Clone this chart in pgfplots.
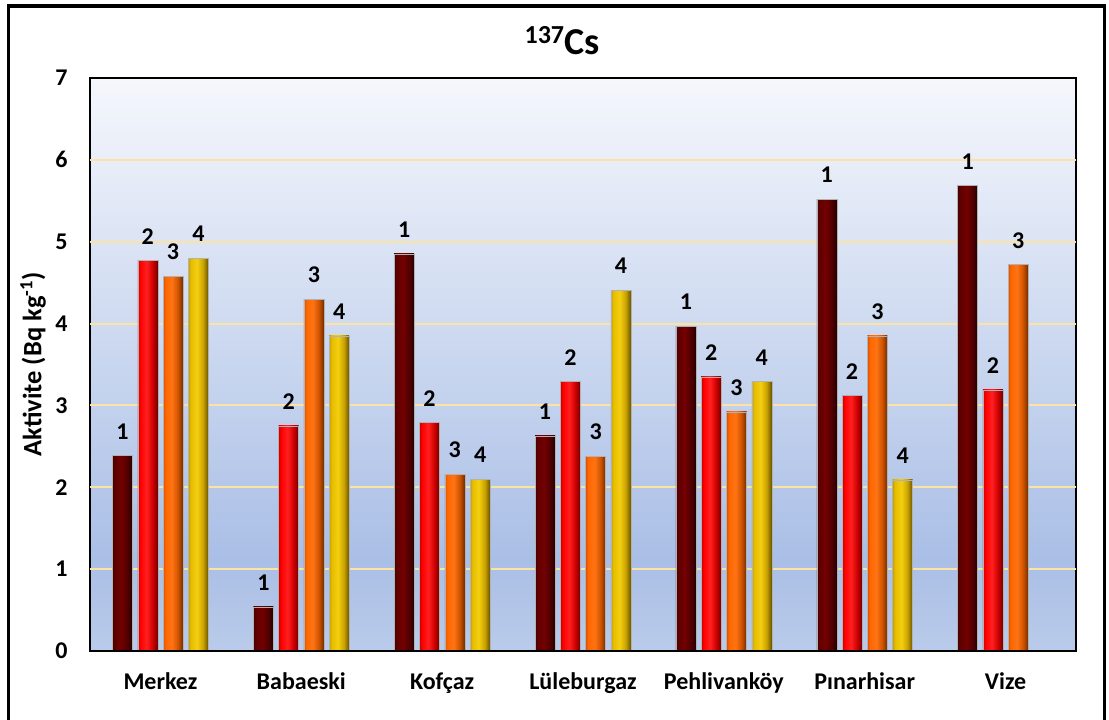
\documentclass[border=0pt]{standalone}
\usepackage{pgfplots}
\pgfplotsset{compat=1.18}
\usepackage{fontspec}
\setmainfont{Carlito}
\definecolor{bgtop}{HTML}{F5F7FC}
\definecolor{bgmid}{HTML}{AABFE6}
\definecolor{bgbot}{HTML}{BACBEA}
\definecolor{gridc}{HTML}{FCE3A3}
\definecolor{a0}{HTML}{4A0000}\definecolor{a1}{HTML}{5E0000}\definecolor{a2}{HTML}{740000}\definecolor{a3}{HTML}{500000}\definecolor{a4}{HTML}{260000}
\definecolor{b0}{HTML}{C80000}\definecolor{b1}{HTML}{FF0000}\definecolor{b2}{HTML}{FF2020}\definecolor{b3}{HTML}{D00000}\definecolor{b4}{HTML}{700000}
\definecolor{c0}{HTML}{D85200}\definecolor{c1}{HTML}{FF6600}\definecolor{c2}{HTML}{FF7414}\definecolor{c3}{HTML}{D05400}\definecolor{c4}{HTML}{702C00}
\definecolor{d0}{HTML}{C8A000}\definecolor{d1}{HTML}{E6BE00}\definecolor{d2}{HTML}{F4CE10}\definecolor{d3}{HTML}{C8A200}\definecolor{d4}{HTML}{665000}
% TikZ fits the central 25bp--75bp part of a 100bp shading to the path
\pgfdeclareverticalshading{bgshade}{100bp}{color(0bp)=(bgbot); color(25bp)=(bgbot); color(33bp)=(bgmid); color(75bp)=(bgtop); color(100bp)=(bgtop)}
\pgfdeclarehorizontalshading{shA}{100bp}{color(0bp)=(a0); color(25bp)=(a0); color(31bp)=(a1); color(47bp)=(a2); color(62bp)=(a3); color(75bp)=(a4); color(100bp)=(a4)}
\pgfdeclarehorizontalshading{shB}{100bp}{color(0bp)=(b0); color(25bp)=(b0); color(31bp)=(b1); color(47bp)=(b2); color(62bp)=(b3); color(75bp)=(b4); color(100bp)=(b4)}
\pgfdeclarehorizontalshading{shC}{100bp}{color(0bp)=(c0); color(25bp)=(c0); color(31bp)=(c1); color(47bp)=(c2); color(62bp)=(c3); color(75bp)=(c4); color(100bp)=(c4)}
\pgfdeclarehorizontalshading{shD}{100bp}{color(0bp)=(d0); color(25bp)=(d0); color(31bp)=(d1); color(47bp)=(d2); color(62bp)=(d3); color(75bp)=(d4); color(100bp)=(d4)}
\newcommand{\lab}{\fontsize{24}{28}\selectfont\bfseries}
\newcommand{\BarA}[2]{\addplot[draw=black!30, line width=0.4pt, shade, shading=shA, bar shift=-37.95pt, nodes near coords=1] coordinates {(#1,#2)};}
\newcommand{\BarB}[2]{\addplot[draw=black!30, line width=0.4pt, shade, shading=shB, bar shift=-12.65pt, nodes near coords=2] coordinates {(#1,#2)};}
\newcommand{\BarC}[2]{\addplot[draw=black!30, line width=0.4pt, shade, shading=shC, bar shift=12.65pt, nodes near coords=3] coordinates {(#1,#2)};}
\newcommand{\BarD}[2]{\addplot[draw=black!30, line width=0.4pt, shade, shading=shD, bar shift=37.95pt, nodes near coords=4] coordinates {(#1,#2)};}
\begin{document}
\begin{tikzpicture}
\useasboundingbox (0,0) rectangle (1109pt,720pt);
\begin{axis}[
  at={(90pt,69pt)}, anchor=south west,
  scale only axis, width=986pt, height=573pt,
  xmin=-0.5, xmax=6.5, ymin=0, ymax=7,
  ybar, bar width=20pt,
  xtick={0,...,6},
  xticklabels={Merkez,Babaeski,Kofçaz,Lüleburgaz,Pehlivanköy,Pınarhisar,Vize},
  ytick={0,...,7},
  extra y ticks={1,...,6}, extra y tick labels={},
  extra y tick style={ymajorgrids=true, major tick length=0pt},
  grid style={line width=2pt, color=gridc},
  major tick length=0pt,
  /pgf/number format/assume math mode=true,
  ticklabel style={font=\lab},
  yticklabel style={xshift=-19pt},
  xticklabel style={yshift=-18pt},
  axis line style={line width=1.4pt},
  axis background/.style={shade, shading=bgshade},
  ylabel={Aktivite (Bq kg\textsuperscript{-1})},
  every axis y label/.style={at={(axis description cs:0,0.5)}, xshift=-57pt, rotate=90, anchor=center, font=\fontsize{26.5}{30}\selectfont\bfseries},
  every node near coord/.append style={font=\lab, inner sep=0pt, anchor=south, yshift=16pt},
  clip=false,
]
% series 1
\BarA{0}{2.39}\BarA{1}{0.54}\BarA{2}{4.85}\BarA{3}{2.63}\BarA{4}{3.97}\BarA{5}{5.52}\BarA{6}{5.69}
% series 2
\BarB{0}{4.77}\BarB{1}{2.75}\BarB{2}{2.79}\BarB{3}{3.29}\BarB{4}{3.35}\BarB{5}{3.12}\BarB{6}{3.19}
% series 3
\BarC{0}{4.58}\BarC{1}{4.30}\BarC{2}{2.16}\BarC{3}{2.38}\BarC{4}{2.92}\BarC{5}{3.85}\BarC{6}{4.72}
% series 4
\BarD{0}{4.80}\BarD{1}{3.85}\BarD{2}{2.10}\BarD{3}{4.41}\BarD{4}{3.29}\BarD{5}{2.09}
\draw[line width=2.6pt] (axis cs:-0.5,0) -- (axis cs:6.5,0);
\end{axis}
\node[anchor=base, font=\fontsize{38}{40}\selectfont\bfseries] at (562pt,665pt) {\raisebox{11pt}{\fontsize{26}{28}\selectfont 137}Cs};
\draw[line width=3.8pt] (8.5pt,-20pt) -- (8.5pt,714pt) -- (1104.5pt,714pt) -- (1104.5pt,-20pt);
\end{tikzpicture}
\end{document}
